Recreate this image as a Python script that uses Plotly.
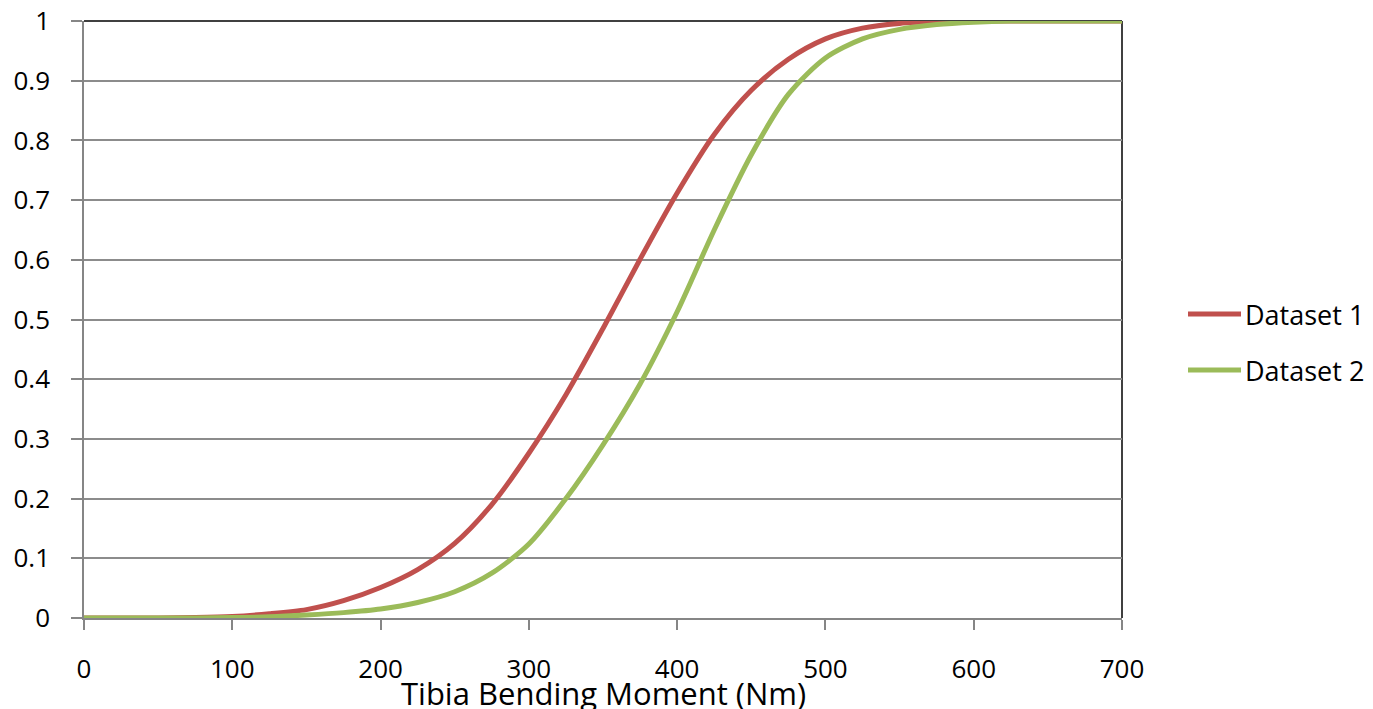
import plotly.graph_objects as go

# Bending moment grid (Nm) and cumulative probability for each dataset
moment = [0, 25, 50, 75, 100, 125, 150, 175, 200, 225, 250, 275, 300, 325, 350,
          375, 400, 425, 450, 475, 500, 525, 550, 575, 600, 625, 650, 675, 700]
dataset_1 = [0.0, 0.0, 0.0002, 0.0008, 0.0025, 0.007, 0.014, 0.029, 0.051, 0.081,
             0.125, 0.19, 0.276, 0.374, 0.485, 0.601, 0.712, 0.81, 0.884, 0.936,
             0.97, 0.988, 0.996, 0.999, 1.0, 1.0, 1.0, 1.0, 1.0]
dataset_2 = [0.0, 0.0, 0.0, 0.0002, 0.0007, 0.002, 0.005, 0.009, 0.015, 0.026,
             0.044, 0.075, 0.124, 0.20, 0.29, 0.392, 0.513, 0.65, 0.776, 0.877,
             0.938, 0.97, 0.986, 0.994, 0.998, 1.0, 1.0, 1.0, 1.0]

x_ticks = [0, 100, 200, 300, 400, 500, 600, 700]
y_ticks = [0, 0.1, 0.2, 0.3, 0.4, 0.5, 0.6, 0.7, 0.8, 0.9, 1]
y_tick_text = ["0", "0.1", "0.2", "0.3", "0.4", "0.5", "0.6", "0.7", "0.8", "0.9", "1"]
series_names = ["Dataset 1", "Dataset 2"]

FONT = "Open Sans, Noto Sans, sans-serif"
COLORS = ["#C0504D", "#9BBB59"]
PLOT_L, PLOT_R, PLOT_T, PLOT_B = 84, 1122, 21, 618
W, H = 1373, 709


def px_to_paper(px, py):
    return ((px - PLOT_L) / (PLOT_R - PLOT_L), (PLOT_B - py) / (PLOT_B - PLOT_T))


fig = go.Figure()
for name, ys, col in zip(series_names, [dataset_1, dataset_2], COLORS):
    fig.add_trace(go.Scatter(x=moment, y=ys, mode="lines", name=name,
                             line=dict(color=col, width=5, shape="spline", smoothing=0.8),
                             cliponaxis=False, showlegend=False))

# black frame on the top and right edges of the plot area
fig.add_shape(type="line", xref="paper", yref="paper", x0=0, x1=1, y0=1, y1=1,
              line=dict(color="black", width=1.5), layer="below")
fig.add_shape(type="line", xref="paper", yref="paper", x0=1, x1=1, y0=0, y1=1,
              line=dict(color="black", width=1.5), layer="below")

# legend to the right of the plot
for i, (name, col) in enumerate(zip(series_names, COLORS)):
    yc = 314 + 56 * i
    x0, y0 = px_to_paper(1188, yc)
    x1, _ = px_to_paper(1241, yc)
    fig.add_shape(type="line", xref="paper", yref="paper", x0=x0, x1=x1, y0=y0, y1=y0,
                  line=dict(color=col, width=5))
    tx, ty = px_to_paper(1243, yc)
    fig.add_annotation(xref="paper", yref="paper", x=tx, y=ty, text=name,
                       showarrow=False, xanchor="left", yanchor="middle",
                       font=dict(size=27, color="black"))

# x axis title
tx, ty = px_to_paper((PLOT_L + PLOT_R) / 2, 693)
fig.add_annotation(xref="paper", yref="paper", x=0.5, y=ty, text="Tibia Bending Moment (Nm)",
                   showarrow=False, xanchor="center", yanchor="middle",
                   font=dict(size=31, color="black"))

fig.update_layout(
    width=W, height=H,
    margin=dict(l=PLOT_L, r=W - PLOT_R, t=PLOT_T, b=H - PLOT_B),
    paper_bgcolor="white", plot_bgcolor="white",
    font=dict(family=FONT, size=26, color="black"),
    showlegend=False,
    xaxis=dict(range=[0, 700], tickvals=x_ticks, showgrid=False, zeroline=False,
               showline=True, linecolor="#868686", linewidth=1.5,
               ticks="outside", ticklen=10, tickwidth=1.5, tickcolor="#868686",
               tickfont=dict(size=26), ticklabelstandoff=17, automargin=False),
    yaxis=dict(range=[0, 1], tickvals=y_ticks, ticktext=y_tick_text,
               showgrid=True, gridcolor="#8c8c8c", gridwidth=1.5, zeroline=False,
               showline=True, linecolor="#868686", linewidth=1.5,
               ticks="outside", ticklen=11, tickwidth=1.5, tickcolor="#868686",
               tickfont=dict(size=26), ticklabelstandoff=16, automargin=False),
)

fig.write_html("out.html")
